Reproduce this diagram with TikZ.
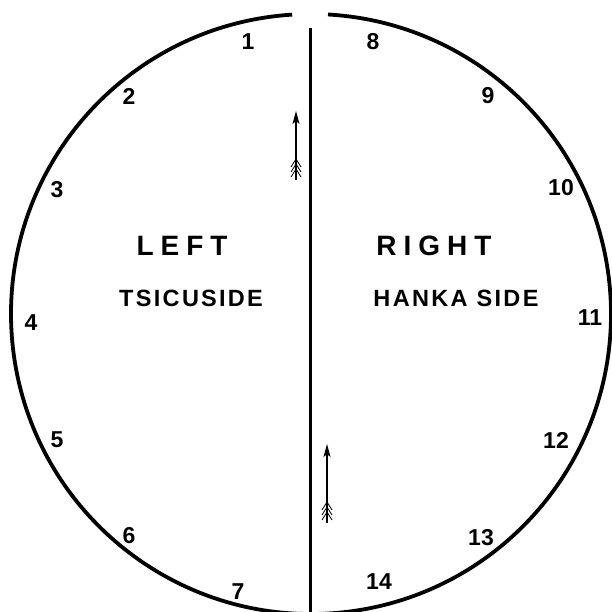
\documentclass[tikz,border=0pt]{standalone}
\usepackage{fontspec}
\setmainfont{Liberation Sans}
\newfontfamily\bigfont[LetterSpace=25]{Liberation Sans}
\newfontfamily\sidefont[LetterSpace=10]{Liberation Sans}
\usetikzlibrary{arrows.meta}
\begin{document}
\begin{tikzpicture}[x=1pt,y=-1pt,
  num/.style={font=\bfseries\fontsize{23}{23}\selectfont, inner sep=0pt},
  head/.style={font=\bigfont\bfseries\fontsize{28}{28}\selectfont, inner sep=0pt},
  sub/.style={font=\sidefont\bfseries\fontsize{23.5}{24}\selectfont, inner sep=0pt},
  rim/.style={line width=3.8pt},
  divider/.style={line width=3pt},
  shaft/.style={line width=1.1pt, -{Stealth[length=13pt,width=7pt,inset=3pt]}},
  feather/.style={line width=0.8pt}]
\useasboundingbox (0,0) rectangle (612,611);
\coordinate (ctr) at (311,314);
% rim with a gap at the top
\draw[rim] ([shift={(266.4:300)}]ctr) arc[start angle=266.4, end angle=-86.75, radius=300];
% divider
\coordinate (dtop) at (310,28);
\coordinate (dbot) at (310,614);
\draw[divider] (dtop) -- (dbot);
% upper arrow
\coordinate (a1tail) at (296,180);
\coordinate (a1tip) at (296,111);
\coordinate (a1f) at (296,159);
\draw[shaft] (a1tail) -- (a1tip);
\foreach \k in {0,1,2}{
  \draw[feather] ([shift={(-5,8+\k*5)}]a1f) -- ([shift={(0,\k*5)}]a1f) -- ([shift={(5,8+\k*5)}]a1f);
}
% lower arrow
\coordinate (a2tail) at (327,523);
\coordinate (a2tip) at (327,444);
\coordinate (a2f) at (327,502);
\draw[shaft] (a2tail) -- (a2tip);
\foreach \k in {0,1,2}{
  \draw[feather] ([shift={(-5,8+\k*5)}]a2f) -- ([shift={(0,\k*5)}]a2f) -- ([shift={(5,8+\k*5)}]a2f);
}
% numbers
\node[num] (n1) at (248,42) {1};
\node[num] (n2) at (129,96) {2};
\node[num] (n3) at (57,190) {3};
\node[num] (n4) at (31,323) {4};
\node[num] (n5) at (57,440) {5};
\node[num] (n6) at (129,536) {6};
\node[num] (n7) at (238,592) {7};
\node[num] (n8) at (373,42) {8};
\node[num] (n9) at (488,96) {9};
\node[num] (n10) at (561,188) {10};
\node[num] (n11) at (590,318) {11};
\node[num] (n12) at (556,440) {12};
\node[num] (n13) at (481,538) {13};
\node[num] (n14) at (379,582) {14};
% titles
\node[head] (left) at (182,246) {LEFT};
\node[head] (right) at (434,246) {RIGHT};
\node[sub] (tsicu) at (191,298) {TSICU\hspace{2pt}SIDE};
\node[sub] (hanka) at (456,298) {HANKA SIDE};
\end{tikzpicture}
\end{document}
